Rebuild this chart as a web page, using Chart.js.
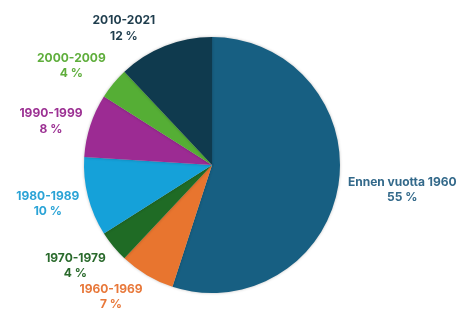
<!DOCTYPE html>
<html><head><meta charset="utf-8">
<script src="https://cdn.jsdelivr.net/npm/chart.js@4/dist/chart.umd.min.js"></script>
<style>html,body{margin:0;padding:0;background:#fff}canvas{display:block}</style>
</head><body>
<canvas id="c" width="470" height="311"></canvas>
<script>
const categories = ["Ennen vuotta 1960","1960-1969","1970-1979","1980-1989","1990-1999","2000-2009","2010-2021"];
const shares = [55,7,4,10,8,4,12];
const sliceColors = ["#175f82","#e8752f","#1f6b25","#15a1d9","#9c2b93","#55ae35","#0f3a4e"];
const labelColors = ["#33698a","#e8783a","#2a6a2c","#2aa3d6","#9c3193","#5fae3c","#1f3d4d"];

const outsideLabels = {
  id: 'outsideLabels',
  afterDatasetsDraw(chart, args, opts) {
    const ctx = chart.ctx;
    const meta = chart.getDatasetMeta(0);
    ctx.save();
    ctx.font = opts.font;
    ctx.textBaseline = 'middle';
    ctx.textAlign = 'center';
    const lh = opts.lineHeight;
    meta.data.forEach((arc, i) => {
      const p = arc.getProps(['x','y','startAngle','endAngle','outerRadius'], true);
      const adj = opts.adjust[i];
      const mid = (p.startAngle + p.endAngle) / 2 + adj[0] * Math.PI / 180;
      const r = p.outerRadius + adj[1];
      const ax = p.x + Math.cos(mid) * r;
      const ay = p.y + Math.sin(mid) * r + opts.yShift;
      const lines = [chart.data.labels[i], chart.data.datasets[0].data[i] + ' %'];
      const w = Math.max(...lines.map(l => ctx.measureText(l).width));
      const cx = Math.cos(mid) < 0 ? ax - w / 2 : ax + w / 2;
      ctx.fillStyle = labelColors[i];
      lines.forEach((l, k) => {
        ctx.fillText(l, cx, ay + (k - (lines.length - 1) / 2) * lh);
      });
    });
    ctx.restore();
  }
};

const shadow = {
  id: 'shadow',
  beforeDatasetsDraw(chart) {
    const ctx = chart.ctx;
    ctx.save();
    ctx.shadowColor = 'rgba(0,0,0,0.25)';
    ctx.shadowBlur = 3;
  },
  afterDatasetsDraw(chart) { chart.ctx.restore(); }
};

new Chart(document.getElementById('c'), {
  type: 'pie',
  data: {
    labels: categories,
    datasets: [{ data: shares, backgroundColor: sliceColors, borderWidth: 0 }]
  },
  options: {
    responsive: false,
    animation: false,
    layout: { padding: { top: 37, bottom: 18, left: 84, right: 130 } },
    plugins: {
      legend: { display: false },
      tooltip: { enabled: false },
      outsideLabels: {
        font: 'bold 12px Inter, Roboto, sans-serif',
        lineHeight: 15.5,
        yShift: 1,
        adjust: [[1,10],[-2.6,20],[-3.7,18],[-1.6,10],[1,9],[3.7,18],[-0.8,21]]
      }
    }
  },
  plugins: [shadow, outsideLabels]
});
</script>
</body></html>
